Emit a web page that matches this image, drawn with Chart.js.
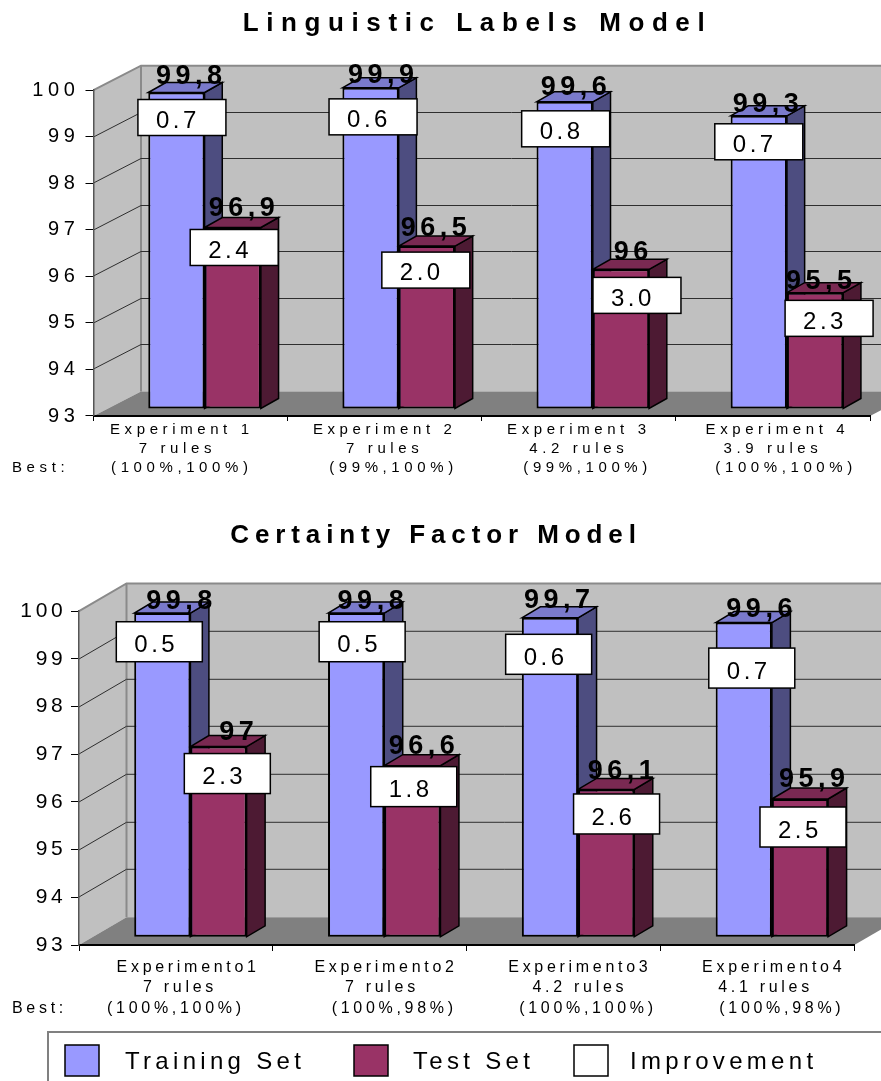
<!DOCTYPE html>
<html>
<head>
<meta charset="utf-8">
<script src="https://cdn.jsdelivr.net/npm/chart.js@4"></script>
<style>
html,body{margin:0;padding:0;background:#fff;width:881px;height:1081px;overflow:hidden}
canvas{position:absolute;left:0;top:0}
</style>
</head>
<body>
<canvas id="c1" width="881" height="1081"></canvas>
<canvas id="c2" width="881" height="1081"></canvas>
<script>
// ---- data: Linguistic Labels Model
const titleA = "Linguistic Labels Model";
const categoriesA = [
  ["Experiment 1  ", "7 rules   ", "(100%,100%)  "],
  ["Experiment 2", "7 rules", "  (99%,100%)"],
  ["Experiment 3", "4.2 rules", "  (99%,100%)"],
  [" Experiment 4", "3.9 rules", "   (100%,100%)"]
];
const trainingA = [99.8, 99.9, 99.6, 99.3];
const testA = [96.9, 96.5, 96, 95.5];
const improvementTrainA = [0.7, 0.6, 0.8, 0.7];
const improvementTestA = [2.4, 2.0, 3.0, 2.3];

// ---- data: Certainty Factor Model
const titleB = "Certainty Factor Model";
const categoriesB = [
  ["   Experimento1", " 7 rules", "(100%,100%)"],
  ["    Experimento2", "   7 rules", "      (100%,98%)"],
  ["    Experimento3", "    4.2 rules", "      (100%,100%)"],
  ["    Experimento4", "  4.1 rules", "      (100%,98%)"]
];
const trainingB = [99.8, 99.8, 99.7, 99.6];
const testB = [97, 96.6, 96.1, 95.9];
const improvementTrainB = [0.5, 0.5, 0.6, 0.7];
const improvementTestB = [2.3, 1.8, 2.6, 2.5];

const yTicksMin = 93, yTicksMax = 100;
const seriesNames = ["Training Set", "Test Set", "Improvement"];
const seriesColors = ["#9999FF", "#993366", "#FFFFFF"];
const rowLabel = "Best:";

// ---- annotation nudges (label / box position relative to its bar): [dx, dy]
const valueNudgeA = [[[12.7,-9],[10.5,-5],[9,-6.7],[7,-4]], [[9,-11],[7,-10],[10,-9],[4,-4]]];
const boxNudgeA   = [[[5.5,25],[2.5,29],[1,27],[0,26]], [[1.5,20],[-1,24],[16,26],[14,25.7]]];
const valueNudgeB = [[[17,-4],[14.5,-4],[7,-10],[15.6,-6]], [[18,-6.7],[9.5,-11.6],[14.5,-10],[12,-12]]];
const boxNudgeB   = [[[-3,28.7],[6,28.7],[-1.3,36.5],[8,45.5]], [[8.8,27],[1.4,21],[10.4,24.5],[3,28]]];

const FONT = '"Liberation Sans", Arial, sans-serif';

function poly(ctx, pts, fill, stroke, lw) {
  ctx.beginPath();
  pts.forEach((p, i) => i ? ctx.lineTo(p[0], p[1]) : ctx.moveTo(p[0], p[1]));
  ctx.closePath();
  if (fill) { ctx.fillStyle = fill; ctx.fill(); }
  if (stroke) { ctx.strokeStyle = stroke; ctx.lineWidth = lw; ctx.stroke(); }
}

function makeChart(id, g) {
  const plugin = {
    id: 'excel3d',
    afterLayout(chart) {
      const t = chart.titleBlock;
      t.left = g.titleX - 440; t.right = g.titleX + 440;
      t.top = g.titleTop; t.bottom = g.titleTop + 31;
      if (!t._wrapped) {
        const d = t.draw;
        t.draw = function () {
          const c = chart.ctx; c.save(); c.letterSpacing = g.titleLs + 'px';
          d.call(this); c.restore();
        };
        t._wrapped = true;
      }
    },
    beforeDraw(chart) {
      const c = chart.ctx, a = chart.chartArea, [dx, dy] = g.depth, ys = chart.scales.y;
      c.letterSpacing = g.tickLs + 'px';
      c.save();
      c.letterSpacing = '0px';
      const r = a.right + dx;
      poly(c, [[a.left + dx, a.top + dy], [r, a.top + dy], [r, a.bottom + dy], [a.left + dx, a.bottom + dy]], '#C0C0C0');
      poly(c, [[a.left, a.top], [a.left + dx, a.top + dy], [a.left + dx, a.bottom + dy], [a.left, a.bottom]], '#C0C0C0');
      poly(c, [[a.left, a.bottom], [a.left + dx, a.bottom + dy], [r, a.bottom + dy], [a.right, a.bottom]], '#808080');
      // outline of the walls
      c.strokeStyle = '#8a8a8a'; c.lineWidth = 2;
      c.beginPath();
      c.moveTo(a.left, a.top); c.lineTo(a.left + dx, a.top + dy); c.lineTo(r, a.top + dy);
      c.moveTo(a.left + dx, a.top + dy); c.lineTo(a.left + dx, a.bottom + dy);
      c.stroke();
      // gridlines along side wall and back wall
      c.strokeStyle = '#2e2e2e'; c.lineWidth = 1;
      ys.ticks.forEach(t => {
        if (t.value === yTicksMin || t.value === yTicksMax) return;
        const y = Math.round(ys.getPixelForValue(t.value));
        c.beginPath();
        c.moveTo(a.left, y); c.lineTo(a.left + dx, y + dy); c.lineTo(r, y + dy);
        c.stroke();
      });
      c.restore();
    },
    beforeDatasetsDraw(chart) {
      const c = chart.ctx, [sx, sy] = g.shift, [dx, dy] = g.side;
      c.save();
      c.translate(sx, sy);
      [[0, '#4D4D80', '#7A7ACC'], [1, '#4D1A33', '#7A2952']].forEach(([i, side, top]) => {
        chart.getDatasetMeta(i).data.forEach(b => {
          const l = b.x - b.width / 2, rr = b.x + b.width / 2;
          poly(c, [[rr, b.y], [rr + dx, b.y + dy], [rr + dx, b.base + dy], [rr, b.base]], side, '#000', 1.5);
          poly(c, [[l, b.y], [l + dx, b.y + dy], [rr + dx, b.y + dy], [rr, b.y]], top, '#000', 1.5);
        });
      });
    },
    afterDatasetsDraw(chart) {
      const c = chart.ctx, [sx, sy] = g.shift;
      c.restore();
      // value labels
      c.save();
      c.fillStyle = '#000';
      c.font = 'bold ' + g.valueSize + 'px ' + FONT;
      c.letterSpacing = g.valueLs + 'px';
      c.textAlign = 'center'; c.textBaseline = 'alphabetic';
      [0, 1].forEach(i => chart.getDatasetMeta(i).data.forEach((b, k) => {
        const txt = String(chart.data.datasets[i].data[k]).replace('.', ',');
        const n = g.valueNudge[i][k];
        c.fillText(txt, b.x + sx + n[0] + g.valueLs / 2, b.y + sy + n[1]);
      }));
      c.restore();
      // improvement boxes
      c.save();
      c.font = g.boxFont + 'px ' + FONT;
      c.letterSpacing = g.boxLs + 'px';
      c.textAlign = 'left'; c.textBaseline = 'alphabetic';
      [0, 1].forEach(i => chart.getDatasetMeta(i).data.forEach((b, k) => {
        const n = g.boxNudge[i][k];
        const x = b.x + sx + n[0] - g.boxW / 2, y = b.y + sy + n[1] - g.boxH / 2;
        c.fillStyle = '#fff'; c.strokeStyle = '#000'; c.lineWidth = 1.5;
        c.fillRect(x, y, g.boxW, g.boxH); c.strokeRect(x, y, g.boxW, g.boxH);
        c.fillStyle = '#000';
        c.fillText(g.improvement[i][k].toFixed(1), x + 18, y + g.boxBase);
      }));
      c.restore();
    },
    afterDraw(chart) {
      const c = chart.ctx;
      c.save();
      c.fillStyle = '#000';
      c.font = g.xSize + 'px ' + FONT;
      c.letterSpacing = g.tickLs + 'px';
      c.textAlign = 'left'; c.textBaseline = 'alphabetic';
      c.fillText(rowLabel, 12, g.bestY);
      c.restore();
      if (g.legend) {
        c.save();
        c.strokeStyle = '#808080'; c.lineWidth = 2;
        c.beginPath(); c.moveTo(48, 1090); c.lineTo(48, 1032); c.lineTo(890, 1032); c.stroke();
        c.font = '24px ' + FONT; c.letterSpacing = '4.3px';
        c.textBaseline = 'alphabetic'; c.textAlign = 'left';
        chart.data.datasets.forEach((d, i) => {
          const [sw, tx] = g.legend[i];
          c.fillStyle = d.backgroundColor; c.strokeStyle = '#000'; c.lineWidth = 1.5;
          c.fillRect(sw, 1045, 34, 31); c.strokeRect(sw, 1045, 34, 31);
          c.fillStyle = '#000';
          c.fillText(d.label, tx, 1069);
        });
        c.restore();
      }
    }
  };
  const barStyle = { borderColor: '#000', borderWidth: 2, borderSkipped: false, base: yTicksMin };
  return new Chart(document.getElementById(id), {
    type: 'bar',
    data: {
      labels: g.categories,
      datasets: [
        { label: seriesNames[0], data: g.training, backgroundColor: seriesColors[0], ...barStyle },
        { label: seriesNames[1], data: g.test, backgroundColor: seriesColors[1], ...barStyle },
        { label: seriesNames[2], data: g.improvement[1], backgroundColor: seriesColors[2], ...barStyle, hidden: true }
      ]
    },
    options: {
      responsive: false,
      animation: false,
      events: [],
      datasets: { bar: { categoryPercentage: g.barFrac, barPercentage: 1 } },
      layout: { padding: { left: 0, right: 881 - g.plot.right, top: g.plot.top - 31, bottom: 0 } },
      plugins: {
        legend: { display: false },
        tooltip: { enabled: false },
        title: {
          display: true, text: g.title, color: '#000', padding: 0,
          font: { family: FONT, size: 26, weight: 'bold', lineHeight: 1.2 }
        }
      },
      scales: {
        x: {
          afterFit: s => { s.height = 1081 - g.plot.bottom; },
          border: { color: '#000', width: 2 },
          grid: { drawOnChartArea: false, drawTicks: true, tickLength: g.xTick, tickColor: '#000', tickWidth: 1 },
          ticks: {
            autoSkip: false, maxRotation: 0, minRotation: 0, padding: g.xPad, color: '#000',
            font: { family: FONT, size: g.xSize, lineHeight: g.xLine }
          }
        },
        y: {
          min: yTicksMin, max: yTicksMax,
          afterFit: s => { s.width = g.plot.left; },
          border: { color: '#555', width: 1.5 },
          grid: { drawOnChartArea: false, drawTicks: true, tickLength: 8, tickColor: '#000', tickWidth: 1 },
          ticks: {
            stepSize: 1, padding: g.yPad, color: '#000',
            font: { family: FONT, size: g.tickSize }
          }
        }
      }
    },
    plugins: [plugin]
  });
}

makeChart('c1', {
  title: titleA, titleX: 477.5, titleTop: 8, titleLs: 7.6,
  categories: categoriesA, training: trainingA, test: testA,
  improvement: [improvementTrainA, improvementTestA],
  plot: { left: 93.5, top: 90, right: 870, bottom: 416 },
  depth: [47.5, -24.5], shift: [14, -7], side: [17.7, -10], barFrac: 0.58,
  valueNudge: valueNudgeA, boxNudge: boxNudgeA,
  valueSize: 27, valueLs: 4.5, boxFont: 24, boxLs: 3.5, boxW: 88, boxH: 36, boxBase: 28.3,
  tickSize: 20, tickLs: 4.6, xSize: 15, xLine: 1.27, xTick: 5, xPad: -1, yPad: 6, bestY: 472
});

makeChart('c2', {
  title: titleB, titleX: 436, titleTop: 520, titleLs: 5.9,
  categories: categoriesB, training: trainingB, test: testB,
  improvement: [improvementTrainB, improvementTestB],
  plot: { left: 79, top: 611, right: 854.3, bottom: 945 },
  depth: [47.5, -27.7], shift: [14.5, -7.7], side: [18.5, -11], barFrac: 0.58,
  valueNudge: valueNudgeB, boxNudge: boxNudgeB,
  valueSize: 27, valueLs: 4.5, boxFont: 24, boxLs: 3.5, boxW: 86, boxH: 40, boxBase: 30.7,
  tickSize: 21, tickLs: 3.7, xSize: 16, xLine: 1.28, xTick: 6, xPad: 6, yPad: 4.5, bestY: 1013,
  legend: [[65, 125], [354, 413], [574, 630]]
});
</script>
</body>
</html>
